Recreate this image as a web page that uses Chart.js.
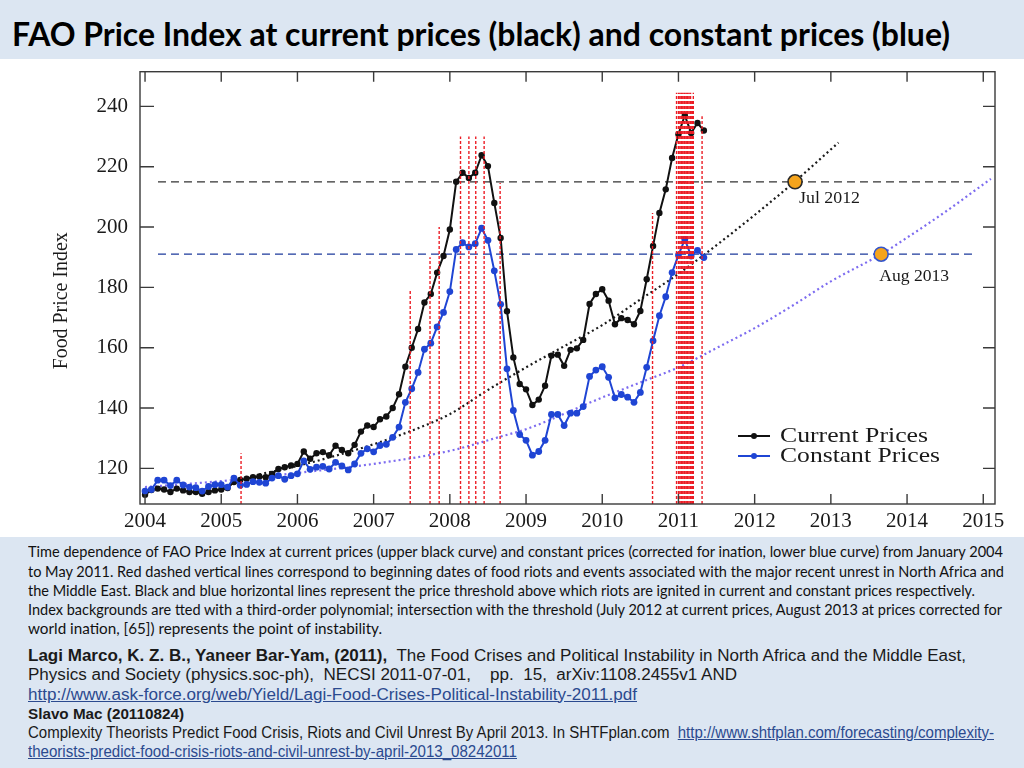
<!DOCTYPE html>
<html>
<head>
<meta charset="utf-8">
<script src="https://cdn.jsdelivr.net/npm/chart.js@4.4.0/dist/chart.umd.min.js"></script>
<style>
html,body{margin:0;padding:0;}
body{width:1024px;height:768px;background:#dce6f2;position:relative;overflow:hidden;}
#title{position:absolute;left:12px;top:14px;font-family:Lato,"Open Sans",sans-serif;font-weight:bold;font-size:33px;line-height:38px;color:#000;white-space:nowrap;transform-origin:0 50%;}
#plot{position:absolute;left:0;top:59px;width:1024px;height:478px;background:#fff;}
.ln{position:absolute;left:28px;white-space:nowrap;transform-origin:0 50%;line-height:18px;height:18px;}
.cap{font-family:Lato,"Open Sans",sans-serif;font-size:15px;color:#111;}
.ref{font-family:"Liberation Sans Narrow","Liberation Sans",Arial,sans-serif;font-size:16px;color:#1a1a1a;}
.ref a{color:#2b4a8f;text-decoration:underline;}
</style>
</head>
<body>
<div id="title" data-w="938">FAO Price Index at current prices (black) and constant prices (blue)</div>
<div id="plot"><canvas id="c"></canvas></div>

<div class="ln cap" style="top:542px" data-w="975">Time dependence of FAO Price Index at current prices (upper black curve) and constant prices (corrected for ination, lower blue curve) from January 2004</div>
<div class="ln cap" style="top:561.5px" data-w="976">to May 2011. Red dashed vertical lines correspond to beginning dates of food riots and events associated with the major recent unrest in North Africa and</div>
<div class="ln cap" style="top:581px" data-w="947">the Middle East. Black and blue horizontal lines represent the price threshold above which riots are ignited in current and constant prices respectively.</div>
<div class="ln cap" style="top:600px" data-w="974">Index backgrounds are tted with a third-order polynomial; intersection with the threshold (July 2012 at current prices, August 2013 at prices corrected for</div>
<div class="ln cap" style="top:619px" data-w="354">world ination, [65]) represents the point of instability.</div>

<div class="ln ref" style="top:647px" data-w="938"><b>Lagi Marco, K. Z. B., Yaneer Bar-Yam, (2011),</b>&nbsp; The Food Crises and Political Instability in North Africa and the Middle East,</div>
<div class="ln ref" style="top:666px" data-w="709">Physics and Society (physics.soc-ph),&nbsp; NECSI 2011-07-01,&nbsp;&nbsp;&nbsp; pp.&nbsp; 15,&nbsp; arXiv:1108.2455v1 AND</div>
<div class="ln ref" style="top:685.5px" data-w="609"><a>http://www.ask-force.org/web/Yield/Lagi-Food-Crises-Political-Instability-2011.pdf</a></div>
<div class="ln ref" style="top:705px;font-size:14px" data-w="156"><b>Slavo Mac (20110824)</b></div>
<div class="ln ref" style="top:724px" data-w="966">Complexity Theorists Predict Food Crisis, Riots and Civil Unrest By April 2013. In SHTFplan.com&nbsp; <a>http://www.shtfplan.com/forecasting/complexity-</a></div>
<div class="ln ref" style="top:742.5px" data-w="489"><a>theorists-predict-food-crisis-riots-and-civil-unrest-by-april-2013_08242011</a></div>

<script>
// ---------------- DATA ----------------
const startYear = 2004;            // first month = January 2004, monthly to May 2011
const currentPrices = [
  111.3,112.8,113.3,113.0,112.2,113.3,112.7,112.2,112.2,111.6,112.2,112.7,
  113.0,113.5,115.5,116.2,116.6,117.1,117.3,117.1,118.2,119.8,120.4,121.0,
  121.5,125.6,123.2,125.0,125.4,124.4,127.5,126.1,125.0,127.8,132.2,134.2,
  133.7,136.3,137.2,140.0,144.6,153.7,160.0,166.2,175.0,177.8,184.9,190.4,
  199.2,215.0,218.0,216.3,218.0,223.8,220.2,208.0,196.4,172.1,156.8,148.0,
  146.2,141.0,142.8,147.4,157.4,157.7,154.0,159.3,159.8,162.6,174.5,177.8,
  179.4,175.6,167.8,169.8,169.2,167.8,172.2,182.7,193.7,204.7,212.5,222.9,
  230.8,237.0,231.2,234.5,232.0
];
const constantPrices = [
  112.5,113.0,116.1,116.1,114.3,116.1,114.5,113.8,113.6,112.5,114.0,114.6,
  114.6,113.8,116.8,114.4,114.7,115.6,115.4,115.1,116.8,117.6,116.4,117.6,
  118.2,122.5,119.7,120.4,120.7,119.8,122.0,120.8,119.5,121.5,125.0,126.5,
  125.5,127.6,128.0,130.3,133.7,141.9,146.4,151.8,159.5,161.5,166.9,171.7,
  178.6,192.6,194.8,193.4,194.5,199.6,195.6,185.5,174.4,153.0,139.2,131.2,
  129.3,124.4,125.6,129.3,137.9,137.9,134.2,138.3,138.3,140.5,150.5,152.6,
  153.7,150.2,143.4,144.5,143.6,141.9,145.2,153.5,162.3,170.6,176.9,184.9,
  190.7,195.9,190.4,192.3,189.9
];
// third-order polynomial backgrounds
const currentTrendT = [2005.5,2006.0,2006.5,2007.0,2007.5,2008.0,2008.5,2009.0,2009.5,2010.0,2010.5,2011.0,2011.5,2012.0,2012.5,2013.1];
const currentTrendV = [118.0,120.8,124.2,128.0,132.5,138.0,146.0,153.5,160.5,167.5,176.0,184.5,194.0,204.0,214.5,228.0];
const constantTrendT = [2004.0,2005.0,2006.0,2007.0,2008.0,2008.66,2009.0,2010.0,2010.5,2011.0,2011.56,2012.0,2012.5,2013.0,2013.66,2014.0,2014.5,2015.1];
const constantTrendV = [113.8,115.8,118.5,121.5,125.8,130.5,133.0,143.5,148.5,153.5,160.7,166.5,174.0,182.0,191.0,196.5,205.0,216.0];
// riot thresholds
const thresholdNames = ['current','constant'];
const thresholdValues = [215, 191];
const thresholdSpan = [2004.17, 2014.87];
// food riot / unrest event dates (red dashed verticals) and their heights
const eventT   = [2005.26,2007.48,2007.74,2007.86,2008.14,2008.25,2008.34,2008.45,2008.66,2010.66,
                  2010.975,2011.001,2011.021,2011.041,2011.060,2011.080,2011.100,2011.119,2011.139,2011.159,2011.178,2011.195,2011.31];
const eventTop = [125,179.5,190,200,230,230,230,230,214.6,204.7,
                  244.5,244.5,244.5,244.5,244.5,244.5,244.5,244.5,244.5,244.5,242.2,244.5,236.7];
// points of instability
const instabilityLabels = ['Jul 2012','Aug 2013'];
const instabilityT = [2012.53, 2013.66];
const instabilityV = [215, 191];
// axes
const xTicks = [2004,2005,2006,2007,2008,2009,2010,2011,2012,2013,2014,2015];
const yTicks = [120,140,160,180,200,220,240];
const xRange = [2003.934, 2015.154];
const yRange = [108.2, 251.5];
const seriesNames = ['Current Prices','Constant Prices'];

// ---------------- BUILD ----------------
const monthT = currentPrices.map((_, i) => startYear + i / 12);
const pts = (ts, vs) => ts.map((t, i) => ({x: t, y: vs[i]}));
const eventData = [];
eventT.forEach((t, i) => { eventData.push({x: t, y: yRange[0]}, {x: t, y: eventTop[i]}, {x: t, y: null}); });

const BLACK = '#111111', BLUE = '#1f45d4', RED = '#ec1c24', PURPLE = '#7d6cf0';

function fitText(ctx, text, x0, yMid, w, font, color) {
  ctx.save();
  ctx.font = font; ctx.fillStyle = color; ctx.textBaseline = 'middle'; ctx.textAlign = 'left';
  const m = ctx.measureText(text).width;
  ctx.translate(x0, yMid); ctx.scale(w / m, 1);
  ctx.fillText(text, 0, 0);
  ctx.restore();
}

const decor = {
  id: 'decor',
  afterDraw(chart) {
    const {ctx, chartArea: a, scales: {x, y}} = chart;
    ctx.save();
    ctx.strokeStyle = '#3a3a3a'; ctx.lineWidth = 1.4;
    ctx.strokeRect(a.left, a.top, a.right - a.left, a.bottom - a.top);
    ctx.beginPath();
    x.ticks.forEach(t => { const p = x.getPixelForValue(t.value);
      ctx.moveTo(p, a.bottom); ctx.lineTo(p, a.bottom - 10);
      ctx.moveTo(p, a.top); ctx.lineTo(p, a.top + 10); });
    y.ticks.forEach(t => { const p = y.getPixelForValue(t.value);
      ctx.moveTo(a.left, p); ctx.lineTo(a.left + 14, p);
      ctx.moveTo(a.right, p); ctx.lineTo(a.right - 12, p); });
    ctx.stroke();
    ctx.restore();

    // y-axis title
    ctx.save();
    ctx.translate(62, (a.top + a.bottom) / 2 + 13);
    ctx.rotate(-Math.PI / 2);
    fitText(ctx, 'Food Price Index', -68.5, 0, 137, '20px "Liberation Serif"', '#1a1a1a');
    ctx.restore();

    // legend
    const lx = a.right - 257, ly = [a.bottom - 68, a.bottom - 48];
    [BLACK, BLUE].forEach((col, i) => {
      ctx.save();
      ctx.strokeStyle = col; ctx.lineWidth = 2;
      ctx.beginPath(); ctx.moveTo(lx, ly[i]); ctx.lineTo(lx + 32, ly[i]); ctx.stroke();
      ctx.fillStyle = col; ctx.beginPath(); ctx.arc(lx + 16, ly[i], 3, 0, Math.PI * 2); ctx.fill();
      ctx.restore();
      fitText(ctx, seriesNames[i], lx + 42, ly[i], i === 0 ? 148 : 160, '21px "Liberation Serif"', '#1a1a1a');
    });

    // instability labels
    const offs = [[4, 16.5, 61], [-2, 23, 70]];
    instabilityLabels.forEach((lab, i) => {
      const px = x.getPixelForValue(instabilityT[i]), py = y.getPixelForValue(instabilityV[i]);
      fitText(ctx, lab, px + offs[i][0], py + offs[i][1], offs[i][2], '16px "Liberation Serif"', '#1a1a1a');
    });
  }
};

new Chart(document.getElementById('c'), {
  type: 'line',
  data: {
    datasets: [
      { label: 'instability', type: 'scatter', data: pts(instabilityT, instabilityV), order: 0,
        pointRadius: 7, pointBackgroundColor: '#f5a41c', pointBorderColor: ['#2a2a2a', '#3355cc'], pointBorderWidth: 1.6, showLine: false },
      { label: 'events', data: eventData, order: 1, borderColor: RED, borderWidth: 1.4, borderDash: [3, 2],
        pointRadius: 0, spanGaps: false, tension: 0 },
      { label: seriesNames[1], data: pts(monthT, constantPrices), order: 2, borderColor: BLUE, borderWidth: 2,
        pointRadius: 3.4, pointBackgroundColor: BLUE, pointBorderWidth: 0, tension: 0 },
      { label: seriesNames[0], data: pts(monthT, currentPrices), order: 3, borderColor: BLACK, borderWidth: 2,
        pointRadius: 3.2, pointBackgroundColor: BLACK, pointBorderWidth: 0, tension: 0 },
      { label: 'threshold ' + thresholdNames[0], data: pts(thresholdSpan, [thresholdValues[0], thresholdValues[0]]), order: 4,
        borderColor: '#333333', borderWidth: 1.2, borderDash: [8, 5], pointRadius: 0 },
      { label: 'threshold ' + thresholdNames[1], data: pts(thresholdSpan, [thresholdValues[1], thresholdValues[1]]), order: 4,
        borderColor: '#1d3a9c', borderWidth: 1.2, borderDash: [8, 5], pointRadius: 0 },
      { label: 'trend current', data: pts(currentTrendT, currentTrendV), order: 5, borderColor: '#1a1a1a',
        borderWidth: 2.2, borderDash: [2, 3], pointRadius: 0, cubicInterpolationMode: 'monotone' },
      { label: 'trend constant', data: pts(constantTrendT, constantTrendV), order: 5, borderColor: PURPLE,
        borderWidth: 2.2, borderDash: [2, 3], pointRadius: 0, cubicInterpolationMode: 'monotone' }
    ]
  },
  options: {
    responsive: true, maintainAspectRatio: false, animation: false,
    layout: { padding: { top: 12.7, right: 29, left: 0, bottom: 0 } },
    plugins: { legend: { display: false }, tooltip: { enabled: false } },
    scales: {
      x: {
        type: 'linear', min: xRange[0], max: xRange[1],
        afterBuildTicks: s => { s.ticks = xTicks.map(v => ({value: v})); },
        afterFit: s => { s.height = 33; s.paddingLeft = 0; s.paddingRight = 0; },
        grid: { display: false, drawTicks: false }, border: { display: false },
        ticks: { autoSkip: false, maxRotation: 0, padding: 5, color: '#1a1a1a',
                 font: { family: 'Liberation Serif', size: 21 }, callback: v => String(v) }
      },
      y: {
        type: 'linear', min: yRange[0], max: yRange[1],
        afterBuildTicks: s => { s.ticks = yTicks.map(v => ({value: v})); },
        afterFit: s => { s.width = 140; s.paddingTop = 0; s.paddingBottom = 0; },
        grid: { display: false, drawTicks: false }, border: { display: false },
        ticks: { padding: 12, color: '#1a1a1a', font: { family: 'Liberation Serif', size: 21 }, callback: v => String(v) }
      }
    }
  },
  plugins: [decor]
});

// fit HTML text lines to the reference widths
document.querySelectorAll('[data-w]').forEach(el => {
  el.style.display = 'inline-block';
  const w = el.getBoundingClientRect().width;
  el.style.transform = 'scaleX(' + (parseFloat(el.dataset.w) / w) + ')';
});
</script>
</body>
</html>
